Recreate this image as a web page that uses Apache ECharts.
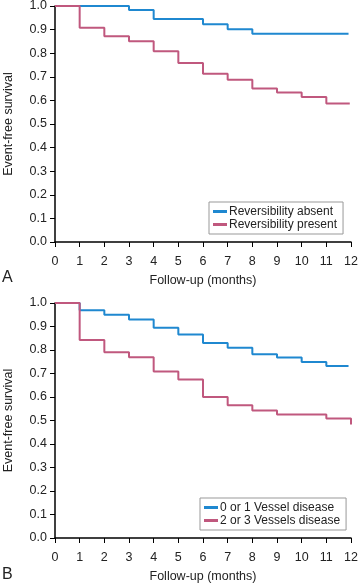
<!DOCTYPE html>
<html>
<head>
<meta charset="utf-8">
<script src="https://cdn.jsdelivr.net/npm/echarts@6/dist/echarts.min.js"></script>
<style>html,body{margin:0;padding:0;background:#fff}#c{width:359px;height:583px}</style>
</head>
<body>
<div id="c"></div>
<script>
// Panel A
var absentMonths = [0, 3, 4, 6, 7, 8, 11.9];
var absentSurv   = [1.0, 0.983, 0.945, 0.923, 0.902, 0.882, 0.882];
var presentMonths = [0, 1, 2, 3, 4, 5, 6, 7, 8, 9, 10, 11, 11.95];
var presentSurv   = [1.0, 0.908, 0.872, 0.851, 0.808, 0.758, 0.713, 0.688, 0.650, 0.634, 0.614, 0.587, 0.587];
// Panel B
var vessel01Months = [0, 1, 2, 3, 4, 5, 6, 7, 8, 9, 10, 11, 11.9];
var vessel01Surv   = [1.0, 0.969, 0.950, 0.930, 0.895, 0.866, 0.830, 0.810, 0.782, 0.768, 0.749, 0.732, 0.732];
var vessel23Months = [0, 1, 2, 3, 4, 5, 6, 7, 8, 9, 11, 12, 12];
var vessel23Surv   = [1.0, 0.843, 0.790, 0.769, 0.709, 0.675, 0.600, 0.565, 0.543, 0.526, 0.508, 0.508, 0.483];

var yTicks = ['0.0','0.1','0.2','0.3','0.4','0.5','0.6','0.7','0.8','0.9','1.0'];
var xTicks = ['0','1','2','3','4','5','6','7','8','9','10','11','12'];
var legendA = ['Reversibility absent', 'Reversibility present'];
var legendB = ['0 or 1 Vessel disease', '2 or 3 Vessels disease'];

var BLUE = '#1f88d0', PINK = '#c0587e';
var FONT = 'Liberation Sans, Arial, sans-serif';

function pairs(xs, ys){ return xs.map(function(x,i){ return [x, ys[i]]; }); }

function xAxis(gi){
  return {
    type:'value', gridIndex:gi, min:0, max:12, interval:1,
    name:'Follow-up (months)', nameLocation:'middle', nameGap:32,
    nameTextStyle:{fontFamily:FONT, fontSize:12.5, color:'#222'},
    axisLine:{lineStyle:{color:'#000', width:1.5}},
    axisTick:{inside:false, length:5, lineStyle:{color:'#000'}},
    axisLabel:{fontFamily:FONT, fontSize:12.5, color:'#222', margin:13,
      formatter:function(v){ return xTicks[Math.round(v)]; }},
    splitLine:{show:false}
  };
}
function yAxis(gi){
  return {
    type:'value', gridIndex:gi, min:0, max:1, interval:0.1,
    name:'Event-free survival', nameLocation:'middle', nameGap:40, nameRotate:90,
    nameTextStyle:{fontFamily:FONT, fontSize:12.5, color:'#222'},
    axisLine:{show:true, lineStyle:{color:'#000', width:1.5}},
    axisTick:{show:true, length:5, lineStyle:{color:'#000'}},
    axisLabel:{fontFamily:FONT, fontSize:12.5, color:'#222', margin:8,
      formatter:function(v){ return yTicks[Math.round(v*10)]; }},
    splitLine:{show:false}
  };
}
function line(name, data, color, gi){
  return {
    name:name, type:'line', step:'end', xAxisIndex:gi, yAxisIndex:gi,
    data:data, symbol:'none', lineStyle:{color:color, width:2}, itemStyle:{color:color},
    animation:false
  };
}
function legend(data, left, top){
  return {
    data:data, orient:'vertical', left:left, top:top,
    backgroundColor:'#fff', borderColor:'#999', borderWidth:1, borderRadius:0,
    padding:[3,6,3,4], itemGap:0, itemWidth:14, itemHeight:3, icon:'rect',
    textStyle:{fontFamily:FONT, fontSize:12, color:'#222', lineHeight:13, padding:[0,0,0,-3]}
  };
}

var chart = echarts.init(document.getElementById('c'), null, {renderer:'canvas'});
chart.setOption({
  animation:false,
  backgroundColor:'#fff',
  grid:[
    {left:55, top:6, width:296, height:236, containLabel:false, outerBoundsMode:'none'},
    {left:55, top:303, width:296, height:235, containLabel:false, outerBoundsMode:'none'}
  ],
  xAxis:[xAxis(0), xAxis(1)],
  yAxis:[yAxis(0), yAxis(1)],
  legend:[legend(legendA, 209, 202), legend(legendB, 200, 498)],
  series:[
    line(legendA[0], pairs(absentMonths, absentSurv), BLUE, 0),
    line(legendA[1], pairs(presentMonths, presentSurv), PINK, 0),
    line(legendB[0], pairs(vessel01Months, vessel01Surv), BLUE, 1),
    line(legendB[1], pairs(vessel23Months, vessel23Surv), PINK, 1)
  ],
  graphic:[
    {type:'text', left:2, top:270, style:{text:'A', fontFamily:FONT, fontSize:16, fill:'#222'}},
    {type:'text', left:2, top:567, style:{text:'B', fontFamily:FONT, fontSize:16, fill:'#222'}}
  ]
});
</script>
</body>
</html>
